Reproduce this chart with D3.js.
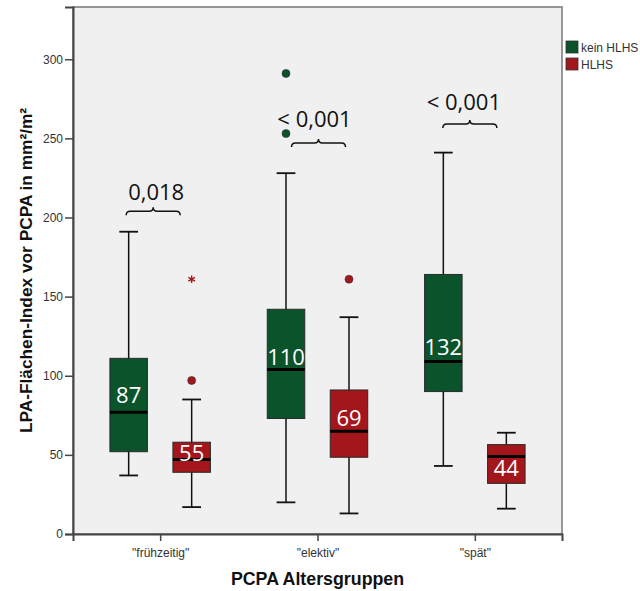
<!DOCTYPE html>
<html lang="de">
<head>
<meta charset="UTF-8">
<title>LPA-Flächen-Index vor PCPA</title>
<script src="https://d3js.org/d3.v7.min.js"></script>
<style>
  body { margin: 0; background: #fff; }
  svg { display: block; }
</style>
</head>
<body>
<svg id="chart" width="640" height="591"></svg>
<script>
// categories and series
const categories = ['"frühzeitig"', '"elektiv"', '"spät"'];
const series = ["kein HLHS", "HLHS"];
const yTicks = [0, 50, 100, 150, 200, 250, 300];

// kein HLHS box statistics (per category)
const keinLow    = [37, 20, 43];
const keinQ1     = [52, 73, 90];
const keinMedian = [77, 104, 109];
const keinQ3     = [111, 142, 164];
const keinHigh   = [191, 228, 241];
const keinLabel  = [87, 110, 132];
const keinLabelAt = [88, 112, 118];

// HLHS box statistics (per category)
const hlhsLow    = [17, 13, 16];
const hlhsQ1     = [39, 48.5, 32];
const hlhsMedian = [47, 65, 49];
const hlhsQ3     = [58, 91, 56.5];
const hlhsHigh   = [85, 137, 64];
const hlhsLabel  = [55, 69, 44];
const hlhsLabelAt = [51, 73, 41.5];

// outliers: [category index, value, kind]
const keinOutliers = [[1, 291, "circle"], [1, 253, "circle"]];
const hlhsOutliers = [[0, 97, "circle"], [0, 161, "star"], [1, 161, "circle"]];

// p-values and brace height
const pValues = ["0,018", "< 0,001", "< 0,001"];
const braceLevel = [204, 247, 259];

const colors = { "kein HLHS": "#0b532b", "HLHS": "#a3171c" };

const svg = d3.select("#chart");
const plotLeft = 73, plotRight = 562, plotTop = 7, plotBottom = 534;

const x = d3.scalePoint().domain(categories).range([plotLeft, plotRight]).padding(0.554);
const sub = d3.scaleBand().domain(series).range([-63, 63]).paddingInner(0.405).paddingOuter(0.2025);
const y = d3.scaleLinear().domain([0, 333]).range([plotBottom, plotTop]);

// plot background
svg.append("rect")
  .attr("x", plotLeft).attr("y", plotTop)
  .attr("width", plotRight - plotLeft).attr("height", plotBottom - plotTop)
  .attr("fill", "#f0f0f0")
  .attr("stroke", "#777").attr("stroke-width", 1.5);

// axes
const yAxis = svg.append("g")
  .attr("transform", `translate(${plotLeft},0)`)
  .call(d3.axisLeft(y).tickValues(yTicks).tickSize(8).tickPadding(2));
const xAxis = svg.append("g")
  .attr("transform", `translate(0,${plotBottom})`)
  .call(d3.axisBottom(x).tickSize(7).tickPadding(7));
[yAxis, xAxis].forEach(g => {
  g.select(".domain").attr("stroke", "#444").attr("stroke-width", 2);
  g.selectAll(".tick line").attr("stroke", "#444").attr("stroke-width", 1.5);
  g.selectAll(".tick text")
    .attr("fill", "#333")
    .style("font-family", "'Liberation Sans', Arial, sans-serif")
    .style("font-size", "12px");
});

// axis titles
svg.append("text")
  .attr("transform", `translate(32,${(plotTop + plotBottom) / 2}) rotate(-90)`)
  .attr("text-anchor", "middle")
  .style("font-family", "'Liberation Sans', Arial, sans-serif")
  .style("font-size", "17.3px").style("font-weight", "bold")
  .attr("fill", "#111")
  .text("LPA-Flächen-Index vor PCPA in mm²/m²");

svg.append("text")
  .attr("x", (plotLeft + plotRight) / 2).attr("y", 585)
  .attr("text-anchor", "middle")
  .style("font-family", "'Liberation Sans', Arial, sans-serif")
  .style("font-size", "17.8px").style("font-weight", "bold")
  .attr("fill", "#111")
  .text("PCPA Altersgruppen");

// build box rows
const boxes = [];
categories.forEach((c, i) => {
  boxes.push({ cat: c, s: "kein HLHS", low: keinLow[i], q1: keinQ1[i], med: keinMedian[i], q3: keinQ3[i], high: keinHigh[i], label: keinLabel[i], at: keinLabelAt[i] });
  boxes.push({ cat: c, s: "HLHS", low: hlhsLow[i], q1: hlhsQ1[i], med: hlhsMedian[i], q3: hlhsQ3[i], high: hlhsHigh[i], label: hlhsLabel[i], at: hlhsLabelAt[i] });
});

const bw = sub.bandwidth();
const cx = d => x(d.cat) + sub(d.s) + bw / 2;

const g = svg.append("g");
const box = g.selectAll("g.box").data(boxes).join("g").attr("class", "box");

// whiskers
box.append("line")
  .attr("x1", cx).attr("x2", cx)
  .attr("y1", d => y(d.high)).attr("y2", d => y(d.low))
  .attr("stroke", "#111").attr("stroke-width", 1.5);
box.selectAll("line.cap").data(d => [[d, d.high], [d, d.low]]).join("line")
  .attr("class", "cap")
  .attr("x1", d => cx(d[0]) - bw / 4).attr("x2", d => cx(d[0]) + bw / 4)
  .attr("y1", d => y(d[1])).attr("y2", d => y(d[1]))
  .attr("stroke", "#111").attr("stroke-width", 1.8);

// boxes
box.append("rect")
  .attr("x", d => cx(d) - bw / 2).attr("width", bw)
  .attr("y", d => y(d.q3)).attr("height", d => y(d.q1) - y(d.q3))
  .attr("fill", d => colors[d.s])
  .attr("stroke", "#2a2a2a").attr("stroke-width", 1);

// medians
box.append("line")
  .attr("x1", d => cx(d) - bw / 2).attr("x2", d => cx(d) + bw / 2)
  .attr("y1", d => y(d.med)).attr("y2", d => y(d.med))
  .attr("stroke", "#000").attr("stroke-width", 3);

// value labels
box.append("text")
  .attr("x", cx).attr("y", d => y(d.at))
  .attr("dy", "0.36em")
  .attr("text-anchor", "middle")
  .style("font-family", "'Open Sans', sans-serif")
  .style("font-size", "22px")
  .attr("fill", "#fff")
  .text(d => d.label);

// outliers
const outliers = keinOutliers.map(o => ({ cat: categories[o[0]], s: "kein HLHS", v: o[1], kind: o[2] }))
  .concat(hlhsOutliers.map(o => ({ cat: categories[o[0]], s: "HLHS", v: o[1], kind: o[2] })));

g.selectAll("circle.out").data(outliers.filter(d => d.kind === "circle")).join("circle")
  .attr("class", "out")
  .attr("cx", cx).attr("cy", d => y(d.v)).attr("r", 4)
  .attr("fill", d => colors[d.s])
  .attr("stroke", "#333").attr("stroke-width", 0.6);

g.selectAll("path.star").data(outliers.filter(d => d.kind === "star")).join("path")
  .attr("class", "star")
  .attr("transform", d => `translate(${cx(d)},${y(d.v)})`)
  .attr("d", d3.symbol(d3.symbolAsterisk, 40))
  .attr("fill", "none")
  .attr("stroke", d => colors[d.s]).attr("stroke-width", 1.4);

// p-value braces
const braceShift = [-7, 1, -5];
const textShift = [-4, -3, -11];
const textGap = [11, 16, 14];
categories.forEach((c, i) => {
  const xm = x(c) + braceShift[i];
  const x0 = xm - 27, x1 = xm + 27;
  const yb = y(braceLevel[i]);
  const p = d3.path();
  p.moveTo(x0, yb + 4);
  p.quadraticCurveTo(x0, yb, x0 + 4, yb);
  p.lineTo(xm - 4, yb);
  p.quadraticCurveTo(xm, yb, xm, yb - 4);
  p.quadraticCurveTo(xm, yb, xm + 4, yb);
  p.lineTo(x1 - 4, yb);
  p.quadraticCurveTo(x1, yb, x1, yb + 4);
  g.append("path")
    .attr("d", p.toString())
    .attr("fill", "none").attr("stroke", "#111").attr("stroke-width", 1.5);
  g.append("text")
    .attr("x", x(c) + textShift[i]).attr("y", yb - textGap[i])
    .attr("text-anchor", "middle")
    .style("font-family", "'Open Sans', sans-serif")
    .style("font-size", "22px")
    .attr("fill", "#111")
    .text(pValues[i]);
});

// legend
const legend = svg.append("g").attr("transform", "translate(566,41)");
series.forEach((s, i) => {
  const row = legend.append("g").attr("transform", `translate(0,${i * 17})`);
  row.append("rect")
    .attr("width", 12).attr("height", 12)
    .attr("fill", colors[s]).attr("stroke", "#333").attr("stroke-width", 0.8);
  row.append("text")
    .attr("x", 15).attr("y", 11)
    .style("font-family", "'Liberation Sans', Arial, sans-serif")
    .style("font-size", "12px")
    .attr("fill", "#333")
    .text(s);
});
</script>
</body>
</html>
